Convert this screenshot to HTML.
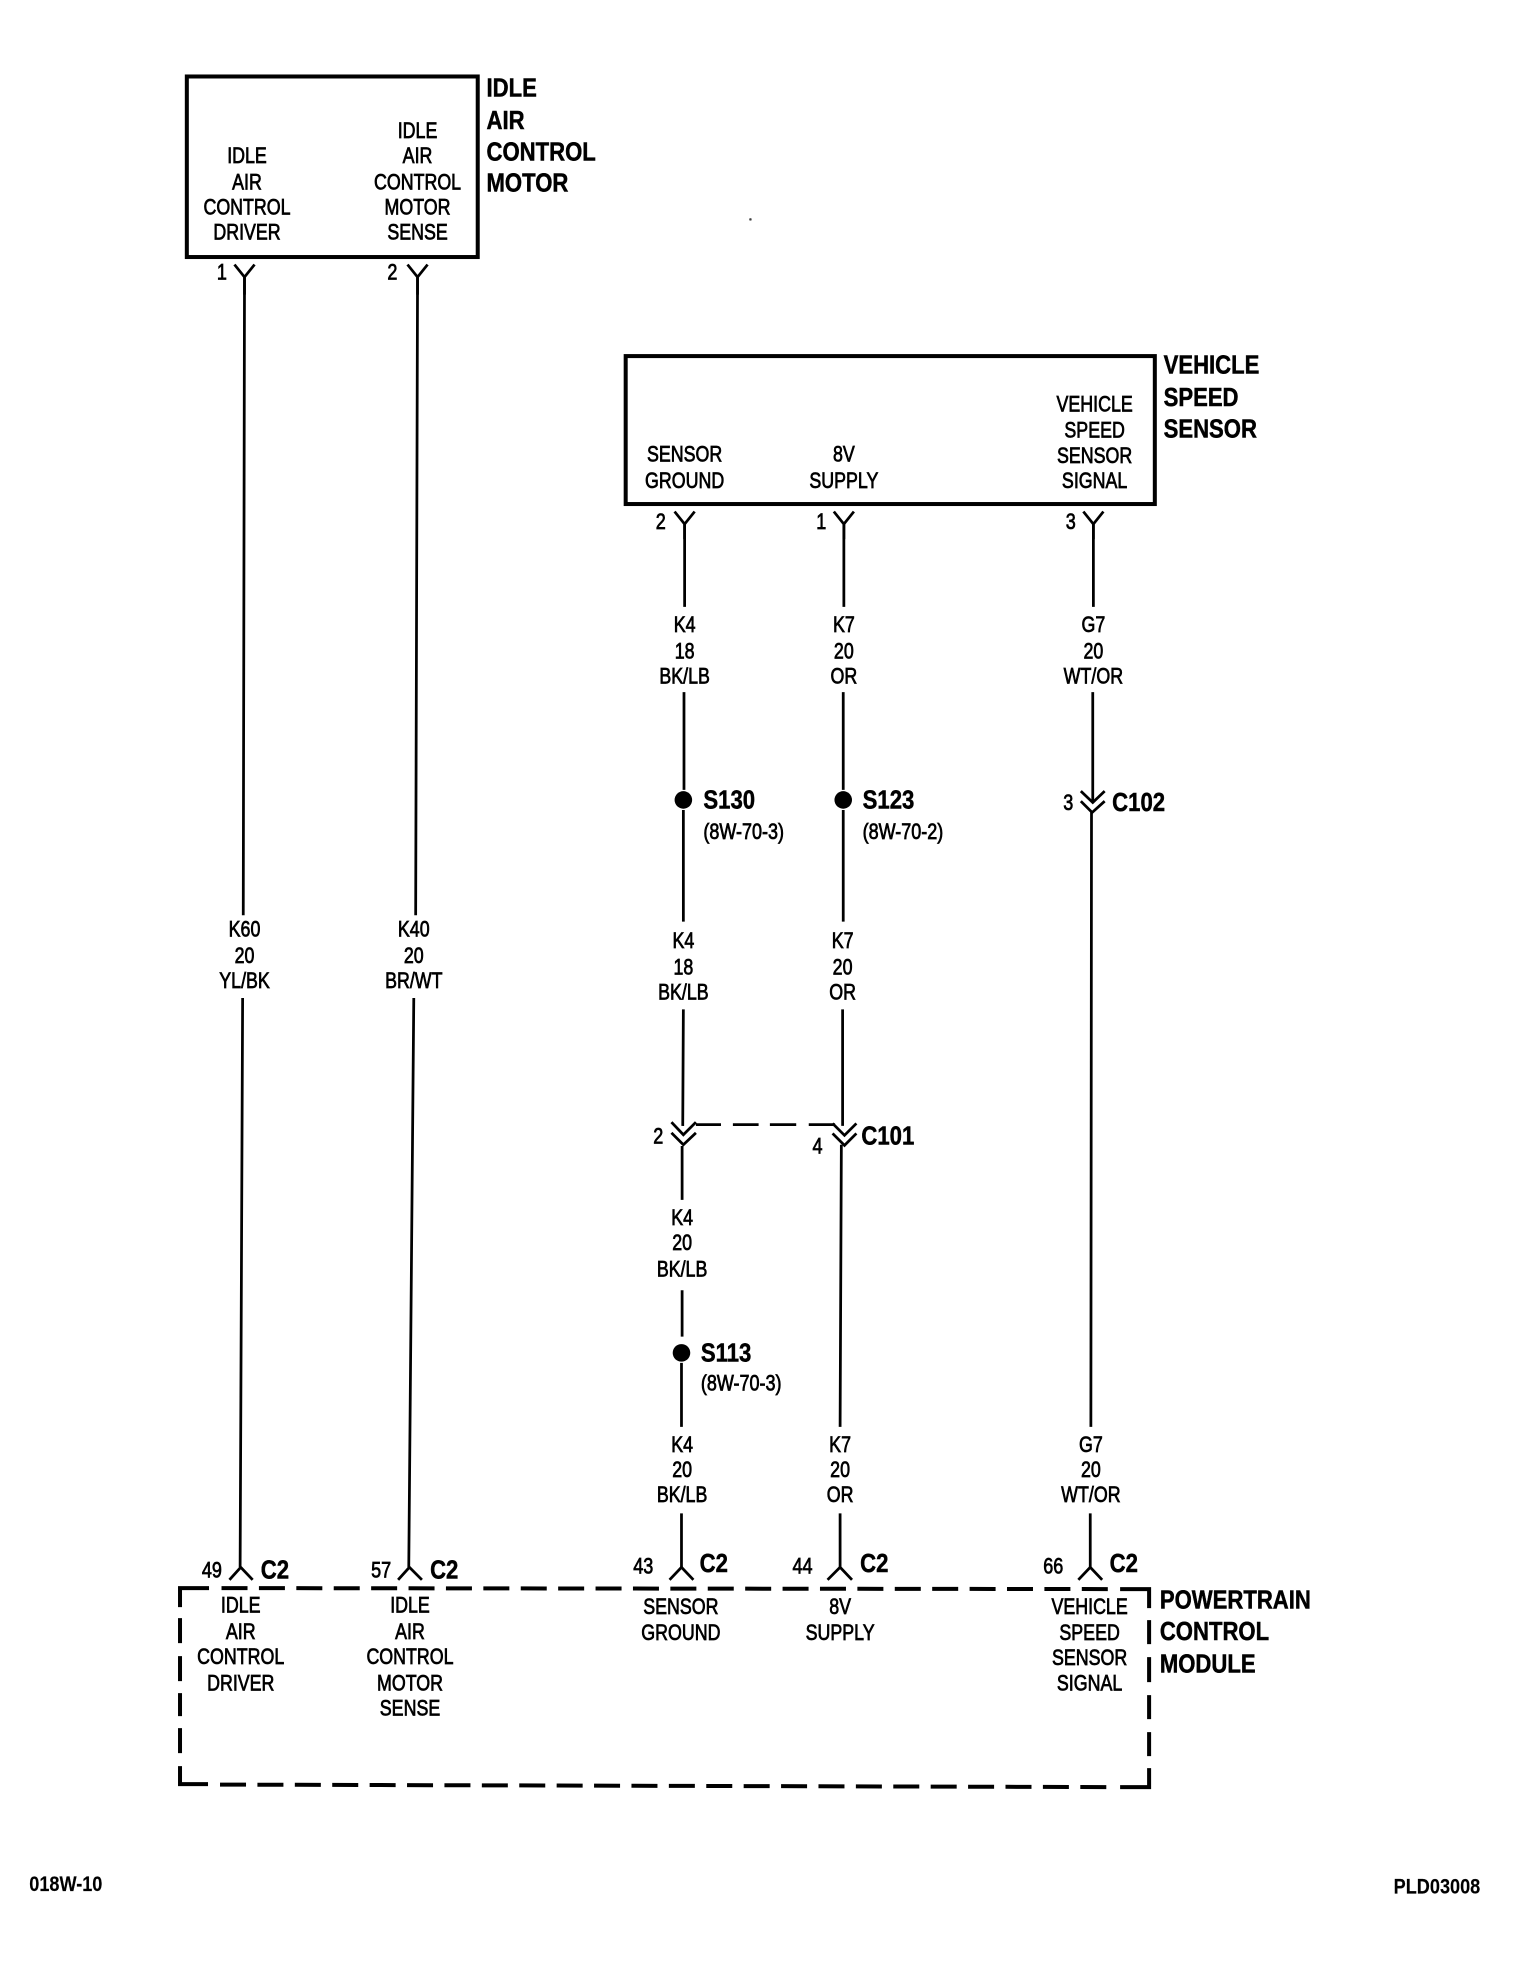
<!DOCTYPE html>
<html><head><meta charset="utf-8"><style>
html,body{margin:0;padding:0;background:#fff}
svg{display:block;filter:contrast(3)}
text{font-family:"Liberation Sans",sans-serif;font-size:18px;fill:#000;stroke:#000;stroke-width:.6;text-anchor:middle;dominant-baseline:central;transform-box:fill-box;transform-origin:center;transform:translateY(.8px) scaleX(.79)}
text.l{text-anchor:start;transform-origin:left center}
text.h{font-weight:bold;font-size:21px;transform:translateY(.4px) scaleX(.84);stroke-width:.4}
text.p{font-size:18px;transform:translateY(.8px) scaleX(.8)}
text.r{font-size:17.5px;transform:translateY(.8px) scaleX(.82)}
text.f{font-size:17px;font-weight:bold;stroke-width:.1;transform:scaleX(.85)}
path,line,rect{fill:none;stroke:#000;stroke-width:2.2}
</style></head><body>
<svg width="1536" height="1966" viewBox="0 0 1225 1568" preserveAspectRatio="none" xmlns="http://www.w3.org/2000/svg">
<rect x="149" y="61" width="232" height="144" style="stroke-width:3.2"/>
<rect x="499" y="284" width="422" height="118" style="stroke-width:3.2"/>

<!-- PCM dashed box, in true pixels -->
<g transform="scale(.7976)" style="stroke-width:4">
<path style="stroke-width:4" d="M180 1607V1588H209"/>
<path style="stroke-width:4;stroke-dasharray:26 11.4" d="M221.5 1588L1108 1589"/>
<path style="stroke-width:4" d="M1120 1589H1149V1608"/>
<path style="stroke-width:4" d="M1149 1620V1644M1149 1657V1682M1149 1695V1719M1149 1732V1756M1149 1768V1787H1120"/>
<path style="stroke-width:4" d="M180 1618V1643M180 1656V1681M180 1693V1716M180 1728V1753M180 1766V1784H208"/>
<path style="stroke-width:4;stroke-dasharray:26 11.4" d="M220 1784.5L1108 1787"/>
</g>

<!-- header labels -->
<text class="h l" x="388" y="70">IDLE</text><text class="h l" x="388" y="96">AIR</text><text class="h l" x="388" y="121">CONTROL</text><text class="h l" x="388" y="146">MOTOR</text>
<text class="h l" x="928" y="291">VEHICLE</text><text class="h l" x="928" y="317">SPEED</text><text class="h l" x="928" y="342">SENSOR</text>
<text class="h l" x="925" y="1276">POWERTRAIN</text><text class="h l" x="925" y="1301">CONTROL</text><text class="h l" x="925" y="1327">MODULE</text>

<!-- box 1 text -->
<text x="197" y="124">IDLE</text><text x="197" y="145">AIR</text><text x="197" y="165">CONTROL</text><text x="197" y="185">DRIVER</text>
<text x="333" y="104">IDLE</text><text x="333" y="124">AIR</text><text x="333" y="145">CONTROL</text><text x="333" y="165">MOTOR</text><text x="333" y="185">SENSE</text>
<!-- box 2 text -->
<text x="546" y="362">SENSOR</text><text x="546" y="383">GROUND</text>
<text x="673" y="362">8V</text><text x="673" y="383">SUPPLY</text>
<text x="873" y="322">VEHICLE</text><text x="873" y="343">SPEED</text><text x="873" y="363">SENSOR</text><text x="873" y="383">SIGNAL</text>
<!-- PCM text -->
<text x="192" y="1280">IDLE</text><text x="192" y="1301">AIR</text><text x="192" y="1321">CONTROL</text><text x="192" y="1342">DRIVER</text>
<text x="327" y="1280">IDLE</text><text x="327" y="1301">AIR</text><text x="327" y="1321">CONTROL</text><text x="327" y="1342">MOTOR</text><text x="327" y="1362">SENSE</text>
<text x="543" y="1281">SENSOR</text><text x="543" y="1302">GROUND</text>
<text x="670" y="1281">8V</text><text x="670" y="1302">SUPPLY</text>
<text x="869" y="1281">VEHICLE</text><text x="869" y="1302">SPEED</text><text x="869" y="1322">SENSOR</text><text x="869" y="1342">SIGNAL</text>

<!-- pins top -->
<text class="p" x="177" y="217">1</text><path d="M187 211L195 221L203 211M195 221V235"/>
<text class="p" x="313" y="217">2</text><path d="M325 211L333 221L341 211M333 221V235"/>
<text class="p" x="527" y="416">2</text><path d="M538 408L546 418L554 408M546 418V430"/>
<text class="p" x="655" y="416">1</text><path d="M665 408L673 418L681 408M673 418V430"/>
<text class="p" x="854" y="416">3</text><path d="M864 408L872 418L880 408M872 418V430"/>

<!-- wires -->
<path d="M195 221L194 730M193.5 796L191.5 1250"/>
<path d="M333 221L331.5 730M330 796L326 1250"/>
<text x="195" y="741">K60</text><text x="195" y="762">20</text><text x="195" y="782">YL/BK</text>
<text x="330" y="741">K40</text><text x="330" y="762">20</text><text x="330" y="782">BR/WT</text>

<path d="M546 418V484M545.5 552V630M545 646V735M545 805L544.5 898M544 914V957M544 1029V1066M543.5 1087V1138M543.5 1207V1250"/>
<text x="546" y="498">K4</text><text x="546" y="519">18</text><text x="546" y="539">BK/LB</text>
<circle cx="545" cy="638" r="7"/>
<text class="h l" x="561" y="638">S130</text><text class="r l" x="561" y="663">(8W-70-3)</text>
<text x="545" y="750">K4</text><text x="545" y="771">18</text><text x="545" y="791">BK/LB</text>
<text x="544" y="971">K4</text><text x="544" y="991">20</text><text x="544" y="1012">BK/LB</text>
<circle cx="543.5" cy="1079" r="7"/>
<text class="h l" x="559" y="1079">S113</text><text class="r l" x="559" y="1103">(8W-70-3)</text>
<text x="544" y="1152">K4</text><text x="544" y="1172">20</text><text x="544" y="1192">BK/LB</text>

<path d="M673 418V484M672.5 552V630M672.5 646V735M672 805V898M671 913L670 1138M670 1207V1250"/>
<text x="673" y="498">K7</text><text x="673" y="519">20</text><text x="673" y="539">OR</text>
<circle cx="672.5" cy="638" r="7"/>
<text class="h l" x="688" y="638">S123</text><text class="r l" x="688" y="663">(8W-70-2)</text>
<text x="672" y="750">K7</text><text x="672" y="771">20</text><text x="672" y="791">OR</text>
<text x="670" y="1152">K7</text><text x="670" y="1172">20</text><text x="670" y="1192">OR</text>

<path d="M872 418V484M871.5 552V640M870.5 648L870 1138M869.5 1207V1250"/>
<text x="872" y="498">G7</text><text x="872" y="519">20</text><text x="872" y="539">WT/OR</text>
<text x="870" y="1152">G7</text><text x="870" y="1172">20</text><text x="870" y="1192">WT/OR</text>

<!-- C102 -->
<path d="M862 631L871.5 640L881 631M862 639L871 648L881 639"/>
<text class="p" x="852" y="640">3</text><text class="h l" x="887" y="640">C102</text>

<!-- C101 -->
<path d="M535.5 895L545 905L555 895M535.5 903.5L545 913L555 903.5"/>
<path d="M664 896L673.5 905.5L683 896M664 904L673.5 913.5L683 904"/>
<path d="M555 897H575M584.5 897H605M614 897H635M645 897H666"/>
<text class="p" x="525" y="906">2</text><text class="p" x="652" y="914">4</text>
<text class="h l" x="687" y="906">C101</text>

<!-- bottom pins -->
<path d="M183 1260L192 1250L201.5 1260"/><path d="M317.5 1260L326.5 1250L336.5 1260"/>
<path d="M534 1260L543.5 1250L553 1260"/><path d="M660 1260L670 1250L679.5 1260"/><path d="M860 1260L869.5 1250L879 1260"/>
<text class="p" x="169" y="1252">49</text><text class="h l" x="208" y="1252">C2</text>
<text class="p" x="304" y="1252">57</text><text class="h l" x="343" y="1252">C2</text>
<text class="p" x="513" y="1249">43</text><text class="h l" x="558" y="1247">C2</text>
<text class="p" x="640" y="1249">44</text><text class="h l" x="686" y="1247">C2</text>
<text class="p" x="840" y="1249">66</text><text class="h l" x="885" y="1247">C2</text>

<text class="f" x="52.5" y="1503">018W-10</text>
<text class="f" x="1146" y="1505">PLD03008</text>
<rect x="598" y="174.5" width="1" height="1" style="stroke-width:.6"/>
</svg>
</body></html>
